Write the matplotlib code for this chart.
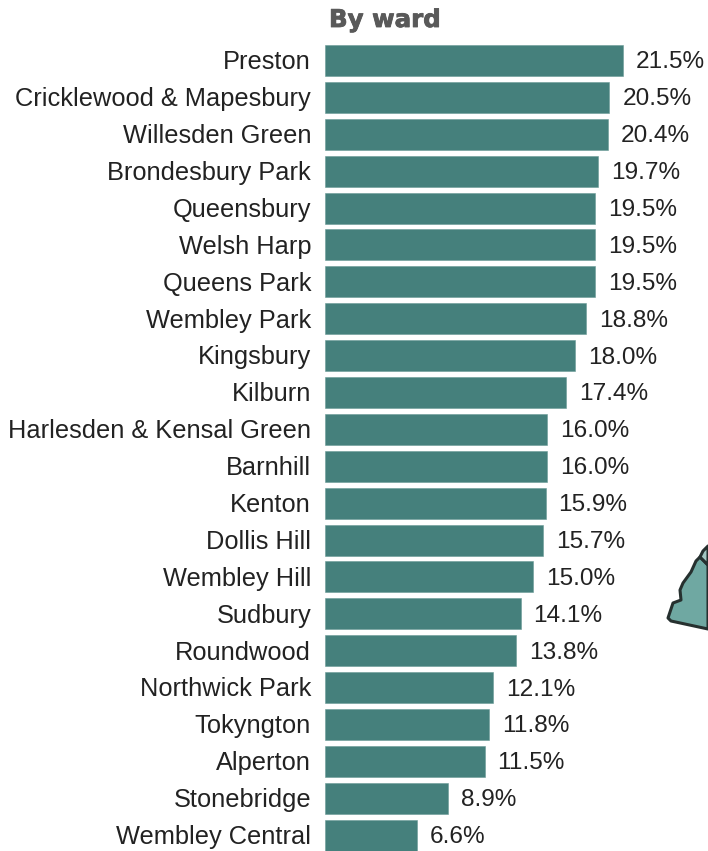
import matplotlib
matplotlib.use('Agg')
import matplotlib.pyplot as plt
import matplotlib.patheffects as pe
from matplotlib.patches import Polygon

wards = ['Preston', 'Cricklewood & Mapesbury', 'Willesden Green', 'Brondesbury Park',
         'Queensbury', 'Welsh Harp', 'Queens Park', 'Wembley Park', 'Kingsbury', 'Kilburn',
         'Harlesden & Kensal Green', 'Barnhill', 'Kenton', 'Dollis Hill', 'Wembley Hill',
         'Sudbury', 'Roundwood', 'Northwick Park', 'Tokyngton', 'Alperton', 'Stonebridge',
         'Wembley Central']
values = [21.5, 20.5, 20.4, 19.7, 19.5, 19.5, 19.5, 18.8, 18.0, 17.4, 16.0, 16.0, 15.9,
          15.7, 15.0, 14.1, 13.8, 12.1, 11.8, 11.5, 8.9, 6.6]
# piece of the map that sticks in on the right, in image pixels
map_main = [(700, 557), (696, 561), (691, 572), (683, 583), (680, 590), (681, 600), (673, 603),
            (668, 618), (671, 621), (708, 629), (708, 565)]
map_top = [(700, 557), (703, 551), (708, 546), (708, 565)]

plt.rcParams['font.family'] = ['Liberation Sans', 'DejaVu Sans']
W, H = 708, 851
fig = plt.figure(figsize=(W / 100, H / 100), dpi=100, facecolor='white')

# overlay in pixel coords for the map fragment
bg = fig.add_axes([0, 0, 1, 1])
bg.set_xlim(0, W)
bg.set_ylim(H, 0)
bg.axis('off')
bg.add_patch(Polygon(map_main, closed=True, fc='#6fa8a2', ec='#26302f', lw=2.2, joinstyle='round'))
bg.add_patch(Polygon(map_top, closed=True, fc='#a3c6c2', ec='#26302f', lw=2.2, joinstyle='round'))

ax = fig.add_axes([325 / W, 0, (W - 325) / W, 1])
ax.patch.set_alpha(0)
ax.set_xlim(0, (W - 325) / 13.87)
ax.set_ylim(21.43, -1.64)
ax.barh(range(len(wards)), values, height=0.84, color='#45807c', edgecolor='#6b9a96', linewidth=0.4)
# labels sit about 2px below the bar centre in the original
ax.set_yticks([i + 0.05 for i in range(len(wards))])
ax.set_yticklabels(wards, fontsize=18.3, color='#222222', va='center')
ax.tick_params(axis='y', length=0, pad=10)
ax.set_xticks([])
for s in ax.spines.values():
    s.set_visible(False)
for i, v in enumerate(values):
    ax.annotate('{:.1f}%'.format(v), (v, i), xytext=(13, -2), textcoords='offset pixels',
                va='center', ha='left', fontsize=17.6, color='#222222', annotation_clip=False)

title = fig.text(329 / W, 1 - 20 / H, 'By ward', family='DejaVu Sans', fontweight='bold', fontsize=17.6,
                 color='#595959', ha='left', va='center')
title.set_path_effects([pe.withStroke(linewidth=0.6, foreground='#595959')])

fig.savefig('out.png', dpi=100)
